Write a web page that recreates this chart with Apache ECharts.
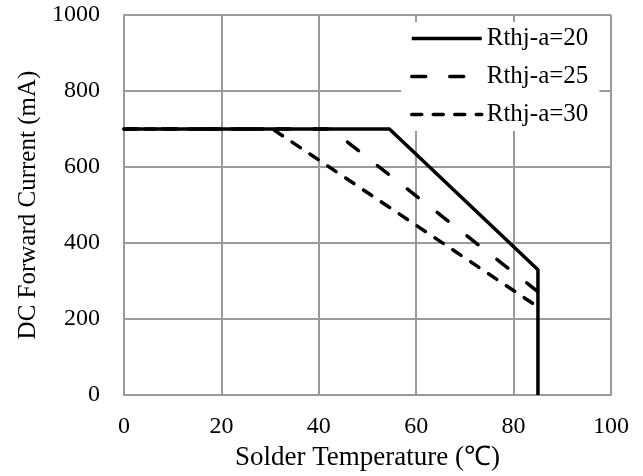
<!DOCTYPE html>
<html>
<head>
<meta charset="utf-8">
<script src="https://cdn.jsdelivr.net/npm/echarts@6/dist/echarts.min.js"></script>
<style>html,body{margin:0;padding:0;background:#fff}#c{width:643px;height:476px}</style>
</head>
<body>
<div id="c"></div>
<script>
const seriesNames = ['Rthj-a=20', 'Rthj-a=25', 'Rthj-a=30'];
const rth20 = [[0, 700], [54.5, 700], [85, 330], [85, 0]];
const rth25 = [[0, 700], [42.5, 700], [85, 272]];
const rth30 = [[0, 700], [30.5, 700], [85, 232]];
const xTicks = { min: 0, max: 100, interval: 20 };
const yTicks = { min: 0, max: 1000, interval: 200 };

const FONT = '"Liberation Serif", "Times New Roman", serif';
const chart = echarts.init(document.getElementById('c'), null, { renderer: 'canvas' });
const grid = { left: 124, right: 32, top: 15, bottom: 77 };
const gl = { show: true, lineStyle: { color: '#9a9a9a', width: 2 } };
chart.setOption({
  animation: false,
  backgroundColor: '#fff',
  grid: grid,
  legend: {
    orient: 'vertical',
    left: 401, top: 22,
    padding: [4, 11, 4, 9],
    backgroundColor: '#fff',
    itemWidth: 70, itemHeight: 25, itemGap: 13,
    itemStyle: { opacity: 0 },
    lineStyle: { width: 3.5 },
    textStyle: { fontFamily: FONT, fontSize: 25, color: '#000', lineHeight: 25 },
    data: seriesNames
  },
  xAxis: {
    type: 'value', min: xTicks.min, max: xTicks.max, interval: xTicks.interval,
    name: 'Solder Temperature (℃)', nameLocation: 'middle', nameGap: 44,
    nameTextStyle: { fontFamily: FONT, fontSize: 27, color: '#000' },
    axisLine: { show: true, lineStyle: { color: '#9a9a9a', width: 2 } },
    axisTick: { show: false },
    axisLabel: { fontFamily: FONT, fontSize: 24, color: '#000', margin: 20, formatter: v => String(v) },
    splitLine: gl
  },
  yAxis: {
    type: 'value', min: yTicks.min, max: yTicks.max, interval: yTicks.interval,
    name: 'DC Forward Current (mA)', nameLocation: 'middle', nameGap: 81,
    nameTextStyle: { fontFamily: FONT, fontSize: 25, color: '#000' },
    axisLine: { show: true, lineStyle: { color: '#9a9a9a', width: 2 } },
    axisTick: { show: false },
    axisLabel: { fontFamily: FONT, fontSize: 24, color: '#000', margin: 24, formatter: v => String(v) },
    splitLine: gl
  },
  series: [
    { name: seriesNames[0], type: 'line', data: rth20, symbol: 'none', color: '#000',
      lineStyle: { color: '#000', width: 3.5, type: 'solid' } },
    { name: seriesNames[1], type: 'line', data: rth25, symbol: 'none', color: '#000',
      lineStyle: { color: '#000', width: 3.5, type: [14, 24], cap: 'round' } },
    { name: seriesNames[2], type: 'line', data: rth30, symbol: 'none', color: '#000',
      lineStyle: { color: '#000', width: 3.5, type: [10, 11.5], cap: 'round' } }
  ]
});
</script>
</body>
</html>
